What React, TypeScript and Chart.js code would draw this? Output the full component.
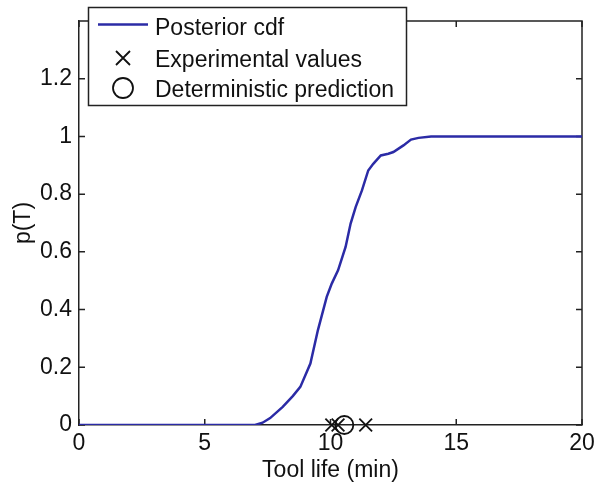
import React, { useEffect, useRef } from 'react';
import { Chart, registerables } from 'chart.js';

Chart.register(...registerables);

// ---- data ----
const cdfX = [0, 5, 7.0, 7.3, 7.6, 8.1, 8.5, 8.8, 9.2, 9.5, 9.85, 10.05, 10.3, 10.6, 10.8, 11.0, 11.25, 11.5, 11.7, 12.0, 12.3, 12.5, 12.9, 13.2, 13.5, 14.0, 17, 20];
const cdfY = [0, 0, 0, 0.008, 0.024, 0.063, 0.1, 0.132, 0.213, 0.329, 0.444, 0.49, 0.536, 0.617, 0.698, 0.755, 0.813, 0.882, 0.905, 0.934, 0.94, 0.946, 0.969, 0.989, 0.995, 1.0, 1.0, 1.0];
const expX = [10.05, 10.3, 11.4];
const expY = [0, 0, 0];
const detX = [10.55];
const detY = [0];
const xTicks = [0, 5, 10, 15, 20];
const yTicks = [0, 0.2, 0.4, 0.6, 0.8, 1, 1.2];
const legendLabels = ['Posterior cdf', 'Experimental values', 'Deterministic prediction'];
const xLabel = 'Tool life (min)';
const yLabel = 'p(T)';

const FONT = "'Liberation Sans', Arial, Helvetica, sans-serif";
const LINE_COLOR = '#2b2ba6';
const AXIS_COLOR = '#222';
const TEXT_COLOR = '#111';

const framePlugin = {
  id: 'matlabFrame',
  beforeDatasetsDraw(chart: any) {
    const { ctx, chartArea: a, scales } = chart;
    const x = scales.x;
    const y = scales.y;
    ctx.save();
    ctx.strokeStyle = AXIS_COLOR;
    ctx.lineWidth = 1.5;
    ctx.beginPath();
    ctx.moveTo(a.left, a.top);
    ctx.lineTo(a.right, a.top);
    ctx.lineTo(a.right, a.bottom);
    ctx.stroke();
    const L = 6;
    ctx.beginPath();
    x.ticks.forEach((t: any) => {
      const px = x.getPixelForValue(t.value);
      ctx.moveTo(px, a.bottom);
      ctx.lineTo(px, a.bottom - L);
      ctx.moveTo(px, a.top);
      ctx.lineTo(px, a.top + L);
    });
    y.ticks.forEach((t: any) => {
      const py = y.getPixelForValue(t.value);
      ctx.moveTo(a.left, py);
      ctx.lineTo(a.left + L, py);
      ctx.moveTo(a.right, py);
      ctx.lineTo(a.right - L, py);
    });
    ctx.stroke();
    ctx.restore();
  },
};

const legendPlugin = {
  id: 'matlabLegend',
  afterDraw(chart: any) {
    const ctx = chart.ctx;
    ctx.save();
    ctx.fillStyle = '#fff';
    ctx.fillRect(88, 7, 319, 99);
    ctx.strokeStyle = AXIS_COLOR;
    ctx.lineWidth = 1.5;
    ctx.strokeRect(88.5, 7.5, 318, 98);
    // line sample
    ctx.strokeStyle = LINE_COLOR;
    ctx.lineWidth = 2.5;
    ctx.beginPath();
    ctx.moveTo(98, 24.5);
    ctx.lineTo(148, 24.5);
    ctx.stroke();
    // cross sample
    ctx.strokeStyle = '#111';
    ctx.lineWidth = 1.8;
    const cx = 123, cy = 58, r = 7;
    ctx.beginPath();
    ctx.moveTo(cx - r, cy - r);
    ctx.lineTo(cx + r, cy + r);
    ctx.moveTo(cx + r, cy - r);
    ctx.lineTo(cx - r, cy + r);
    ctx.stroke();
    // circle sample
    ctx.beginPath();
    ctx.arc(123, 88, 10, 0, Math.PI * 2);
    ctx.stroke();
    // texts
    ctx.fillStyle = TEXT_COLOR;
    ctx.font = `23px ${FONT}`;
    ctx.textBaseline = 'alphabetic';
    ctx.textAlign = 'left';
    const baselines = [35, 67, 97];
    legendLabels.forEach((lab, i) => ctx.fillText(lab, 155, baselines[i]));
    ctx.restore();
  },
};

export default function App() {
  const ref = useRef<HTMLCanvasElement>(null);
  useEffect(() => {
    if (!ref.current) return;
    const chart = new Chart(ref.current, {
      type: 'scatter',
      data: {
        datasets: [
          {
            label: legendLabels[2],
            data: detX.map((x, i) => ({ x, y: detY[i] })),
            pointStyle: 'circle',
            pointRadius: 9,
            pointBorderColor: '#111',
            pointBackgroundColor: 'rgba(0,0,0,0)',
            pointBorderWidth: 1.8,
            showLine: false,
            clip: false,
          } as any,
          {
            label: legendLabels[1],
            data: expX.map((x, i) => ({ x, y: expY[i] })),
            pointStyle: 'crossRot',
            pointRadius: 9,
            pointBorderColor: '#111',
            pointBorderWidth: 1.8,
            showLine: false,
            clip: false,
          } as any,
          {
            label: legendLabels[0],
            data: cdfX.map((x, i) => ({ x, y: cdfY[i] })),
            showLine: true,
            borderColor: LINE_COLOR,
            borderWidth: 2.5,
            pointRadius: 0,
            tension: 0,
          } as any,
        ],
      },
      options: {
        animation: false,
        responsive: false,
        layout: { padding: { top: 21, right: 12, left: 0, bottom: 0 } },
        plugins: { legend: { display: false }, tooltip: { enabled: false } },
        scales: {
          x: {
            type: 'linear',
            min: 0,
            max: 20,
            grid: { display: true, drawOnChartArea: false, drawTicks: false },
            border: { display: true, color: AXIS_COLOR, width: 1.5 },
            ticks: {
              font: { family: FONT, size: 23 },
              color: TEXT_COLOR,
              padding: 5,
              maxRotation: 0,
              autoSkip: false,
              callback: (v: any) => String(v),
            },
            title: {
              display: true,
              text: xLabel,
              font: { family: FONT, size: 23 },
              color: TEXT_COLOR,
              padding: { top: 0, bottom: 3 },
            },
            afterBuildTicks: (s: any) => {
              s.ticks = xTicks.map((v) => ({ value: v }));
            },
            afterFit: (s: any) => {
              s.height = 62;
              s.paddingLeft = 0;
              s.paddingRight = 0;
            },
          },
          y: {
            type: 'linear',
            min: 0,
            max: 1.4,
            grid: { display: true, drawOnChartArea: false, drawTicks: false },
            border: { display: true, color: AXIS_COLOR, width: 1.5 },
            ticks: {
              font: { family: FONT, size: 23 },
              color: TEXT_COLOR,
              padding: 7,
              callback: (v: any) => String(Math.round(v * 10) / 10),
            },
            title: {
              display: true,
              text: yLabel,
              font: { family: FONT, size: 23 },
              color: TEXT_COLOR,
              padding: { top: 10, bottom: 0 },
            },
            afterBuildTicks: (s: any) => {
              s.ticks = yTicks.map((v) => ({ value: v }));
            },
            afterFit: (s: any) => {
              s.width = 79;
              s.paddingTop = 0;
              s.paddingBottom = 0;
            },
          },
        },
      } as any,
      plugins: [framePlugin, legendPlugin],
    });
    return () => chart.destroy();
  }, []);
  return (
    <div style={{ position: 'fixed', left: 0, top: 0, width: 594, height: 487, background: '#fff' }}>
      <canvas ref={ref} width={594} height={487} style={{ display: 'block', width: 594, height: 487 }} />
    </div>
  );
}
